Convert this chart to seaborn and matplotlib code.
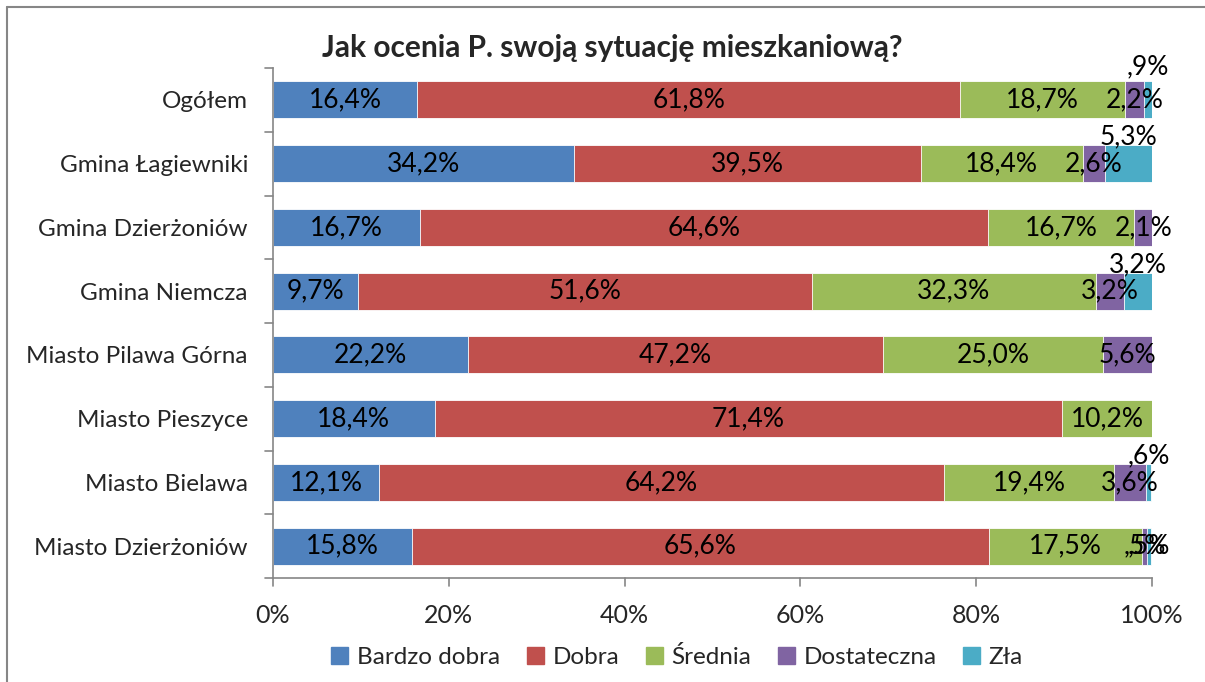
import matplotlib
matplotlib.use("Agg")
import matplotlib.pyplot as plt
from matplotlib.patches import Patch
from matplotlib.lines import Line2D
import seaborn as sns
import pandas as pd
import numpy as np

categories = ["Ogółem", "Gmina Łagiewniki", "Gmina Dzierżoniów", "Gmina Niemcza",
              "Miasto Pilawa Górna", "Miasto Pieszyce", "Miasto Bielawa", "Miasto Dzierżoniów"]
series_names = ["Bardzo dobra", "Dobra", "Średnia", "Dostateczna", "Zła"]
bardzo_dobra = [16.4, 34.2, 16.7, 9.7, 22.2, 18.4, 12.1, 15.8]
dobra = [61.8, 39.5, 64.6, 51.6, 47.2, 71.4, 64.2, 65.6]
srednia = [18.7, 18.4, 16.7, 32.3, 25.0, 10.2, 19.4, 17.5]
dostateczna = [2.2, 2.6, 2.1, 3.2, 5.6, 0.0, 3.6, 0.5]
zla = [0.9, 5.3, 0.0, 3.2, 0.0, 0.0, 0.6, 0.5]
xtick_vals = [0, 20, 40, 60, 80, 100]
title = "Jak ocenia P. swoją sytuację mieszkaniową?"

colors = ["#4F81BD", "#C0504D", "#9BBB59", "#8064A2", "#4BACC6"]

sns.set_theme(style="white")
plt.rcParams["font.family"] = ["Lato", "DejaVu Sans"]

series = [bardzo_dobra, dobra, srednia, dostateczna, zla]
vals = np.array(series)  # shape (5, 8)
cum = np.cumsum(vals, axis=0)

fig = plt.figure(figsize=(12.05, 6.82), dpi=100)
ax = fig.add_axes([273 / 1205, 1 - 578 / 682, (1152 - 273) / 1205, (578 - 68) / 682])

# stacked bars: draw cumulative totals from the top series down
for i in range(len(series_names) - 1, -1, -1):
    df = pd.DataFrame({"kategoria": categories, "wartosc": cum[i]})
    sns.barplot(data=df, x="wartosc", y="kategoria", order=categories, orient="h",
                color=colors[i], width=0.58, ax=ax, edgecolor="white", linewidth=0.6,
                saturation=1)

def fmt(v):
    s = f"{v:.1f}".replace(".", ",")
    if s.startswith("0,"):
        s = s[1:]
    return s + "%"

# upward shift (points) for some small "Zła" labels, as in the original
up_shift = {0: 24, 1: 19, 3: 19, 6: 19}

for j, cat in enumerate(categories):
    for i in range(len(series_names)):
        v = vals[i, j]
        if v <= 0:
            continue
        xc = cum[i, j] - v / 2
        dy = up_shift.get(j, 0) if i == 4 else 0
        ax.annotate(fmt(v), (xc, j), xytext=(0, dy), textcoords="offset points",
                    ha="center", va="center", fontsize=19, color="black")

ax.set_xlim(0, 100)
ax.set_ylim(len(categories) - 0.5, -0.5)
ax.set_xticks(xtick_vals)
ax.set_xticklabels([f"{t}%" for t in xtick_vals], fontsize=18)
ax.set_xlabel("")
ax.set_ylabel("")
ax.set_yticks(range(len(categories)))
ax.set_yticklabels(categories, fontsize=17.5)
ax.tick_params(axis="y", length=0, pad=18)
ax.tick_params(axis="x", length=0, pad=19)
for s in ["top", "right"]:
    ax.spines[s].set_visible(False)
for s in ["left", "bottom"]:
    ax.spines[s].set_color("#868686")
    ax.spines[s].set_linewidth(1.2)

# Excel-like tick marks: category boundaries on y, percentages on x
gray = "#868686"
for k in range(len(categories) + 1):
    yb = k - 0.5
    ax.add_line(Line2D([-0.9, 0], [yb, yb], color=gray, lw=1.2, clip_on=False))
for t in xtick_vals:
    ax.add_line(Line2D([t, t], [len(categories) - 0.5, len(categories) - 0.5 + 0.13],
                       color=gray, lw=1.2, clip_on=False))

fig.text(0.508, 1 - 48 / 682, title, ha="center", va="center", fontsize=21.5,
         fontweight="bold")

handles = [Patch(facecolor=c, edgecolor=c, label=n) for c, n in zip(colors, series_names)]
fig.legend(handles=handles, loc="center", bbox_to_anchor=(0.562, 1 - 657 / 682), ncol=5,
           frameon=False, fontsize=17.5, handlelength=0.7, handleheight=0.7,
           handletextpad=0.35, columnspacing=1.1)

# chart frame (top and left edges visible)
fig.add_artist(Line2D([7 / 1205, 1], [1 - 7 / 682, 1 - 7 / 682], transform=fig.transFigure,
                      color="#868686", lw=1.5))
fig.add_artist(Line2D([7 / 1205, 7 / 1205], [0, 1 - 7 / 682], transform=fig.transFigure,
                      color="#868686", lw=1.5))

fig.savefig("out.png", dpi=100)
